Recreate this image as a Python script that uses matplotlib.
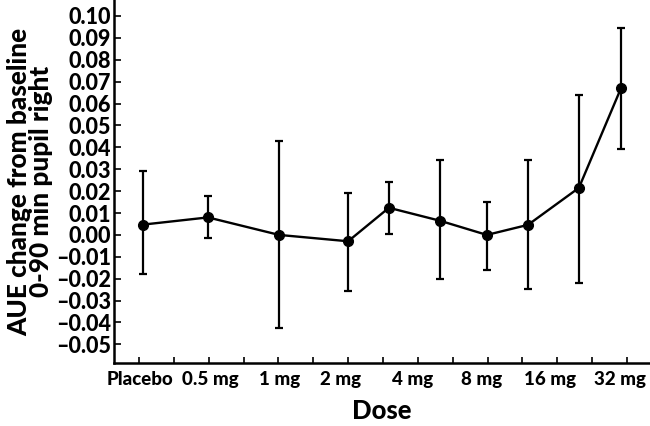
import matplotlib
matplotlib.use("Agg")
import matplotlib.pyplot as plt

# Data
x_pos = [0.11, 1.98, 4.02, 6.0, 7.17, 8.63, 9.98, 11.16, 12.62, 13.83]
means = [0.0047, 0.0080, 0.0000, -0.0029, 0.0124, 0.0065, 0.0000, 0.0046, 0.0215, 0.0671]
upper = [0.0290, 0.0180, 0.0427, 0.0192, 0.0240, 0.0343, 0.0152, 0.0343, 0.0640, 0.0946]
lower = [-0.0180, -0.0014, -0.0426, -0.0258, 0.0005, -0.0201, -0.0160, -0.0249, -0.0221, 0.0394]

tick_marks = list(range(15))
dose_labels = ["Placebo", "0.5 mg", "1 mg", "2 mg", "4 mg", "8 mg", "16 mg", "32 mg"]
dose_label_pos = [0.03, 2.04, 4.04, 5.77, 7.86, 9.84, 11.79, 13.8]
y_ticks = [-0.05, -0.04, -0.03, -0.02, -0.01, 0.00, 0.01, 0.02, 0.03, 0.04, 0.05, 0.06, 0.07, 0.08, 0.09, 0.10]

plt.rcParams['font.family'] = ['Lato', 'DejaVu Sans']
W = 900

fig = plt.figure(figsize=(6.5, 4.26), dpi=100)
ax = fig.add_axes([114/650, (426-363)/426, (650-114)/650, 363/426])

yerr = [[m - l for m, l in zip(means, lower)], [u - m for m, u in zip(means, upper)]]
ax.errorbar(x_pos, means, yerr=yerr, color='black', lw=1.7, elinewidth=1.6,
            capsize=3, capthick=1.6, marker='o', markersize=7, zorder=3)

ax.set_xlim(-0.717, 14.66)
ax.set_ylim(-0.0585, 0.1073)

ax.set_yticks(y_ticks)
ax.set_yticklabels([f"{v:.2f}".replace('-', '\u2013') for v in y_ticks],
                   fontsize=15.5, fontweight=W)
ax.set_xticks(dose_label_pos)
ax.set_xticklabels(dose_labels, fontsize=13.5, fontweight=W)
ax.set_xticks(tick_marks, minor=True)
ax.tick_params(axis='x', which='major', length=0, pad=6)
ax.tick_params(axis='x', which='minor', direction='in', length=4, width=1.2)
ax.tick_params(axis='y', direction='in', length=5, width=1.2, pad=2)

for s in ['top', 'right']:
    ax.spines[s].set_visible(False)
for s in ['left', 'bottom']:
    ax.spines[s].set_linewidth(1.8)

ax.set_ylabel("AUE change from baseline\n0-90 min pupil right", fontsize=18.8,
              fontweight=W, linespacing=0.92, labelpad=2)
ax.set_xlabel("Dose", fontsize=18.5, fontweight=W, labelpad=8)

fig.savefig("out.png", dpi=100)
